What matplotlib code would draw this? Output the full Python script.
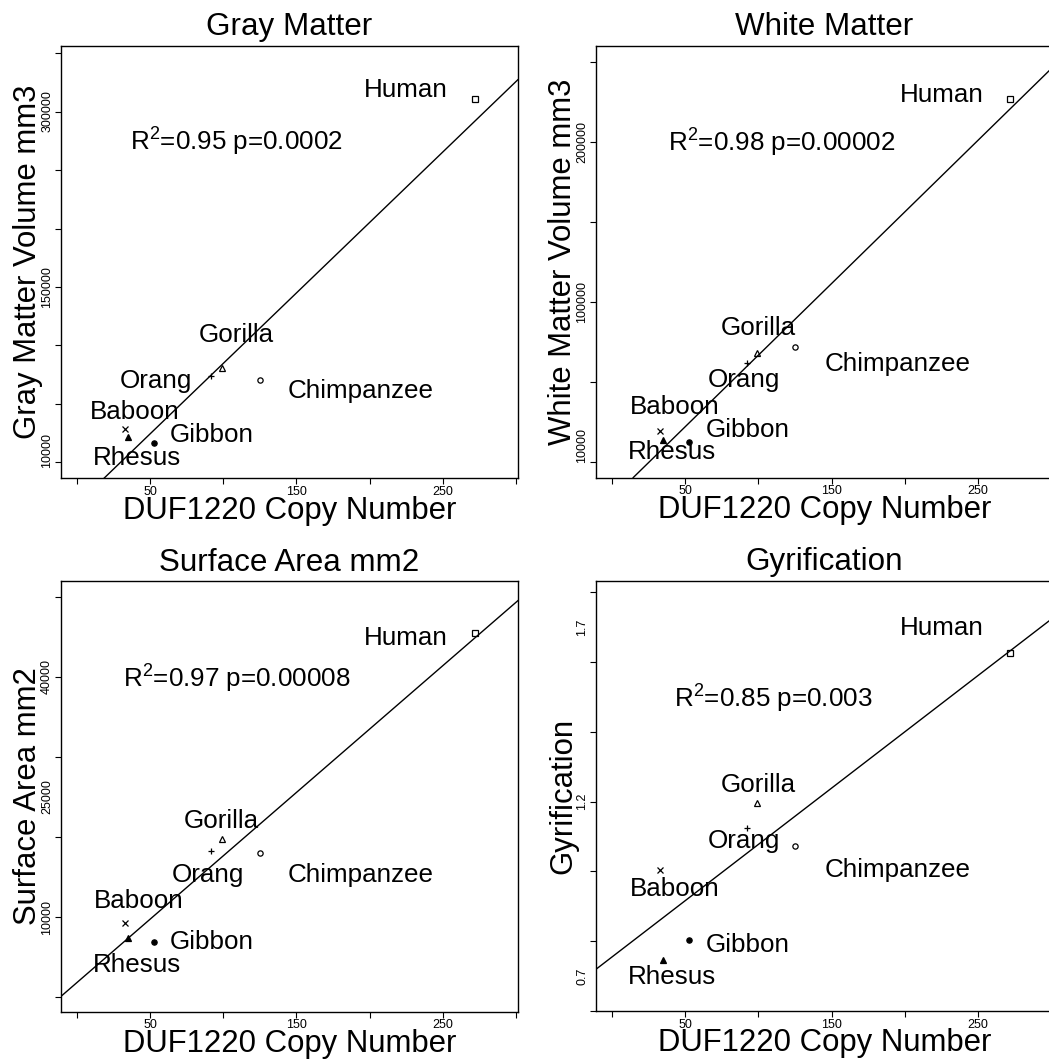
import numpy as np
import matplotlib.pyplot as plt

plt.rcParams['font.family'] = ['Liberation Sans', 'DejaVu Sans']
plt.rcParams['mathtext.fontset'] = 'custom'
plt.rcParams['mathtext.rm'] = 'Liberation Sans'
plt.rcParams['mathtext.it'] = 'Liberation Sans:italic'

# Données
especes = ["Human", "Chimpanzee", "Gorilla", "Orang", "Gibbon", "Rhesus", "Baboon"]
copies = [272, 125, 99, 92, 53, 35, 33]

gris = [310700, 70500, 80900, 74000, 16800, 21700, 28300]
blanc = [227200, 71900, 68300, 61900, 12300, 13900, 19200]
surface = [45480, 18030, 19720, 18240, 6840, 7350, 9290]
gyri = [1.625, 1.072, 1.196, 1.126, 0.804, 0.745, 1.003]

titres = ["Gray Matter", "White Matter", "Surface Area mm2", "Gyrification"]
noms_y = ["Gray Matter Volume mm3", "White Matter Volume mm3", "Surface Area mm2", "Gyrification"]
stats = ["R$^2$=0.95 p=0.0002", "R$^2$=0.98 p=0.00002",
         "R$^2$=0.97 p=0.00008", "R$^2$=0.85 p=0.003"]

etiq_y = [["10000", "150000", "300000"], ["10000", "100000", "200000"],
          ["10000", "25000", "40000"], ["0.7", "1.2", "1.7"]]
graduations_y = [np.arange(0, 350001, 50000), np.arange(0, 250001, 50000),
                 np.arange(0, 50001, 10000), np.arange(0.6, 1.81, 0.2)]
limites_y = [(-13600, 355800), (-9950, 260140), (-1820, 51940), (0.605, 1.832)]

# Position des étiquettes (centre du texte)
pos_noms = [
    [(224.5, 318800), (194.0, 60700), (109.1, 109200), (54.2, 69400),
     (92.5, 23100), (41.1, 3800), (39.5, 43400)],
    [(225.3, 229300), (195.4, 60900), (99.8, 83700), (90.1, 50900),
     (92.9, 20100), (41.0, 5900), (42.9, 34400)],
    [(224.5, 44850), (194.0, 15200), (98.8, 21960), (89.5, 15200),
     (92.5, 6930), (41.1, 3970), (42.2, 11990)],
    [(225.3, 1.699), (195.4, 1.003), (99.8, 1.248), (90.1, 1.087),
     (92.9, 0.788), (41.0, 0.698), (42.9, 0.950)],
]
pos_stats = [(109.1, 274000), (115.9, 199300), (109.1, 39780), (110.1, 1.496)]

marqueurs = ['s', 'o', '^', '+', 'o', '^', 'x']
pleins = [False, False, False, True, True, True, True]
tailles = [4.5, 3.8, 4.0, 5.0, 3.8, 3.8, 3.8]

W, H = 1049, 1062
cadres = [(60.8, 46.3, 517.8, 478.3), (595.9, 46.2, 1052.9, 477.6),
          (60.8, 581.4, 517.8, 1011.7), (595.9, 581.3, 1052.9, 1011.0)]

fig = plt.figure(figsize=(W / 100, H / 100), dpi=100)
series = [gris, blanc, surface, gyri]

for i, y in enumerate(series):
    g, h, d, b = cadres[i]
    ax = fig.add_axes([g / W, 1 - b / H, (d - g) / W, (b - h) / H])

    for k in range(len(especes)):
        if pleins[k]:
            ax.plot(copies[k], y[k], marker=marqueurs[k], color='black',
                    ms=tailles[k], mew=0.9, ls='none')
        else:
            ax.plot(copies[k], y[k], marker=marqueurs[k], mfc='none', mec='black',
                    ms=tailles[k], mew=0.9, ls='none')
        ax.text(pos_noms[i][k][0], pos_noms[i][k][1], especes[k],
                fontsize=18.7, ha='center', va='center')

    pente, origine = np.polyfit(copies, y, 1)
    ax.axline((0, origine), slope=pente, color='black', lw=1)

    ax.text(pos_stats[i][0], pos_stats[i][1], stats[i], fontsize=18.7,
            ha='center', va='center')

    ax.set_xlim(-10.9, 301.2)
    ax.set_ylim(*limites_y[i])
    ax.set_xticks(range(0, 301, 50), ['', '50', '', '150', '', '250', ''])
    ax.yaxis.remove_overlapping_locs = False
    ax.set_yticks(graduations_y[i], [''] * len(graduations_y[i]))
    ax.set_yticks([float(v) for v in etiq_y[i]], etiq_y[i], minor=True)
    ax.tick_params(which='major', length=4.4, width=0.8, labelsize=9, pad=1)
    ax.tick_params(which='minor', axis='y', length=0, labelsize=9, pad=5.5,
                   labelrotation=90)
    plt.setp(ax.get_yticklabels(minor=True), va='center')
    for s in ax.spines.values():
        s.set_linewidth(1)

    ax.set_title(titres[i], fontsize=22.6, pad=7.8)
    ax.set_xlabel("DUF1220 Copy Number", fontsize=22.4, va='baseline')
    ax.xaxis.set_label_coords(0.5, -40.5 / (b - h))
    ax.set_ylabel(noms_y[i], fontsize=22.4, va='baseline')
    ax.yaxis.set_label_coords(-25.0 / (d - g), 0.5)

fig.savefig("out.png", dpi=100)
